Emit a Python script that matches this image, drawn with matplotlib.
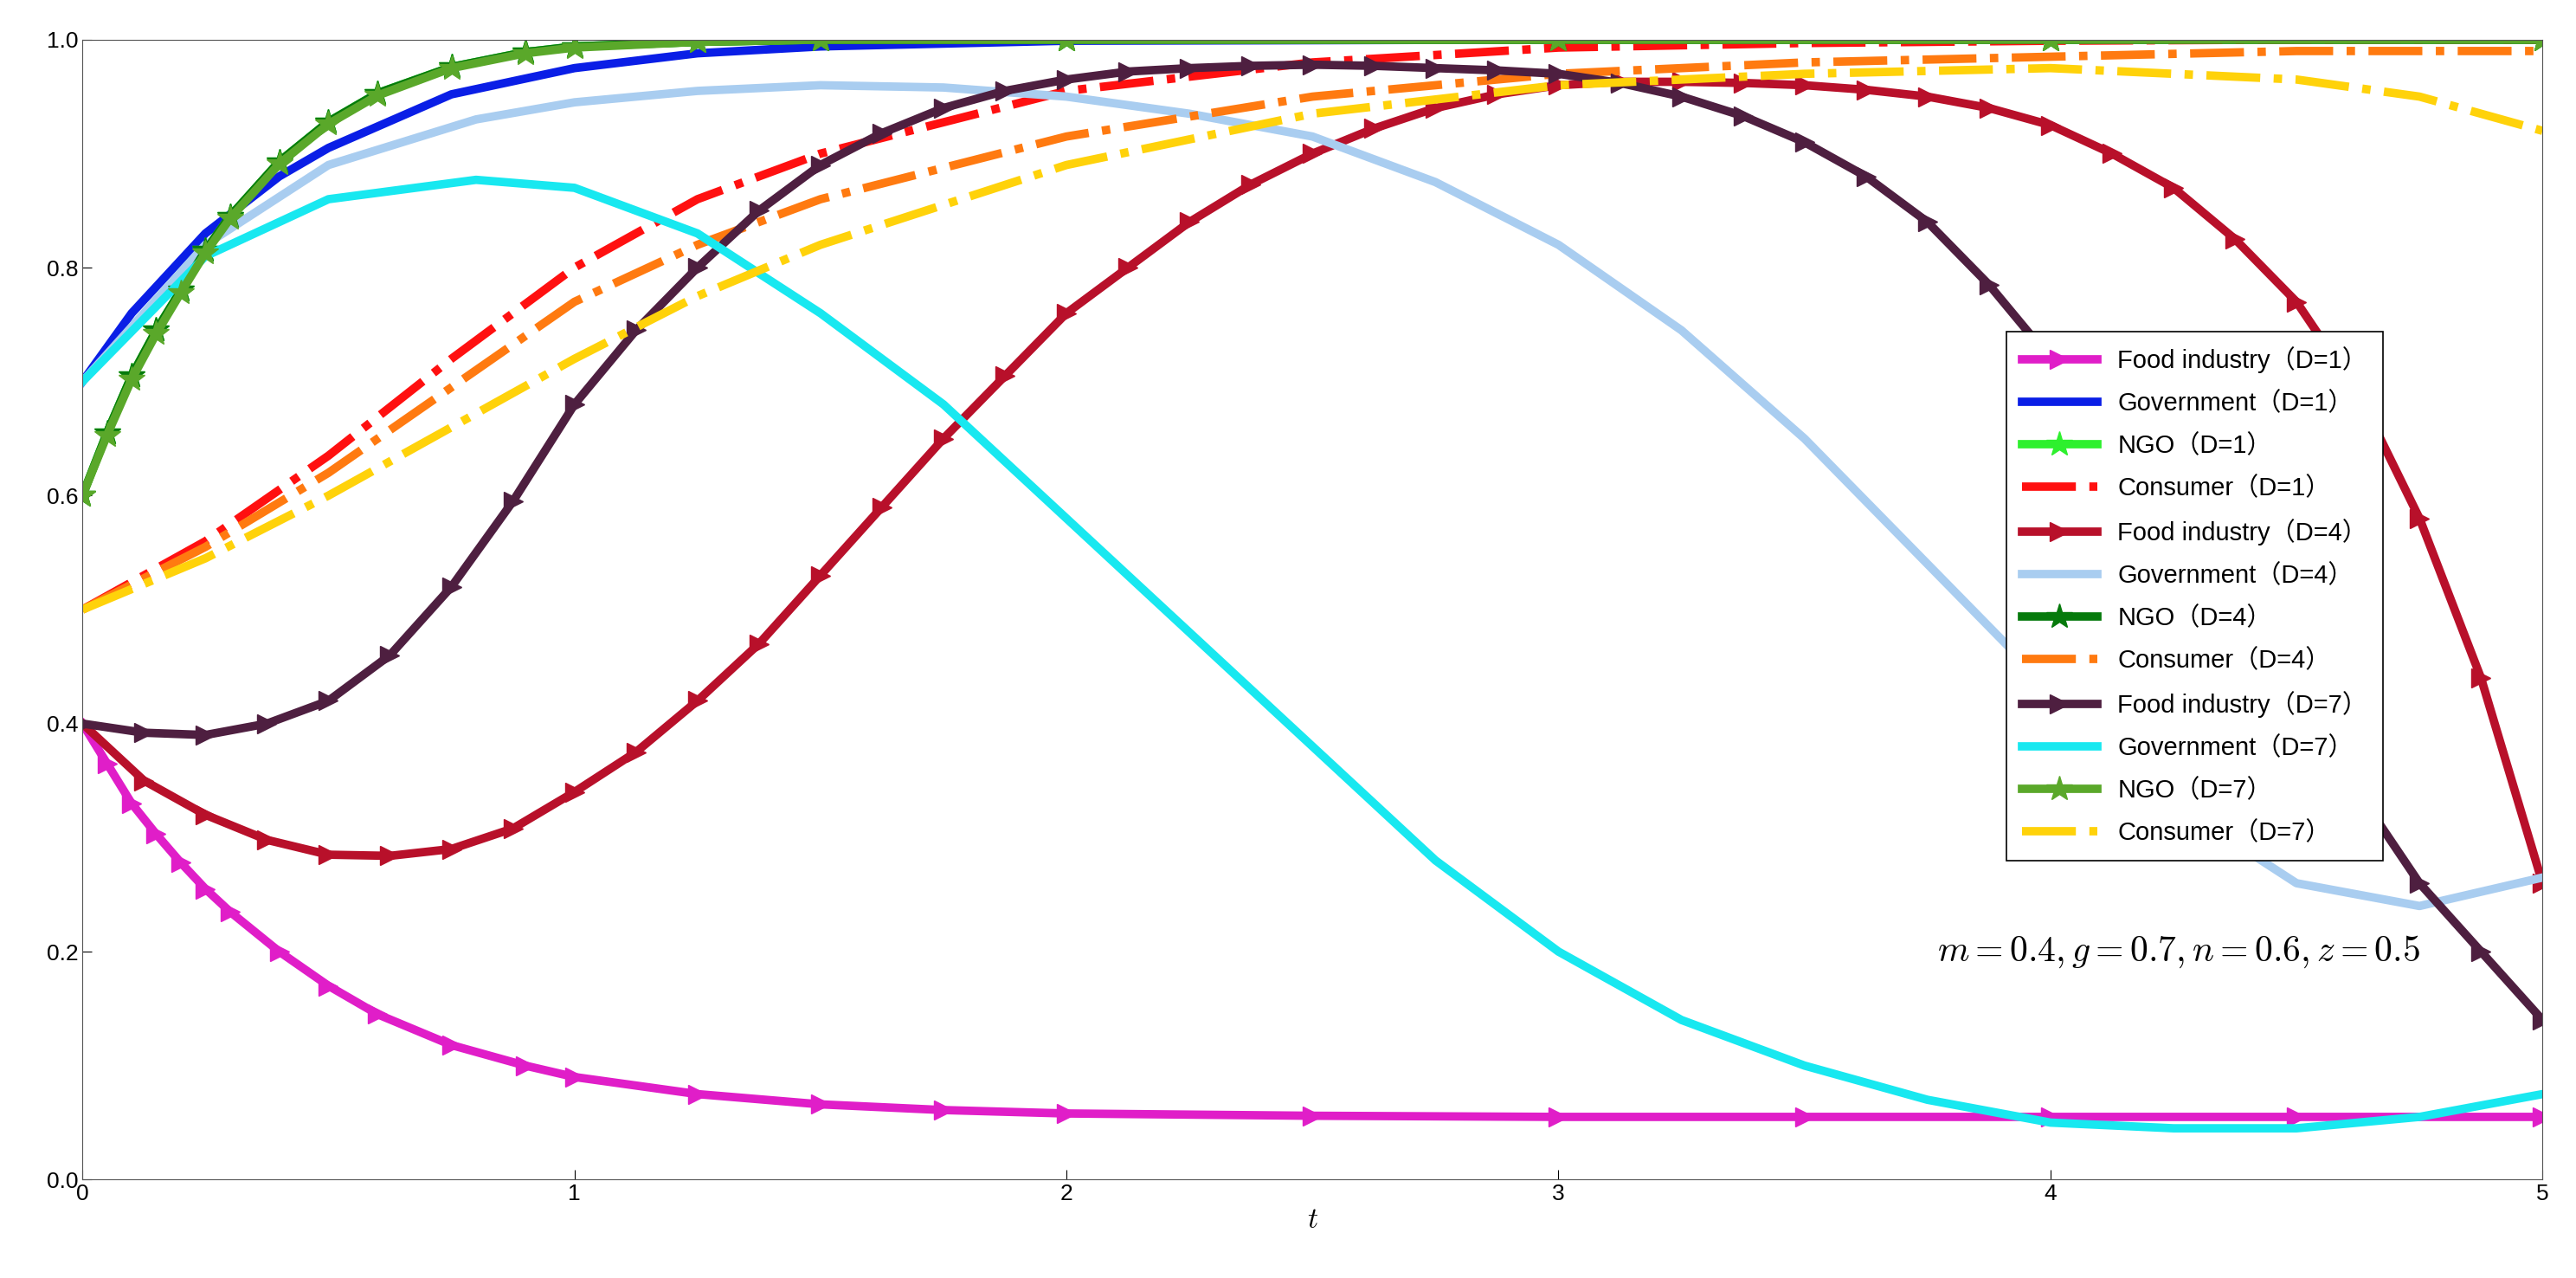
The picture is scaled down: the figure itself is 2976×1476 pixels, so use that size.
import numpy as np
import matplotlib.pyplot as plt

plt.rcParams['font.family'] = ['Liberation Sans', 'Noto Sans CJK SC']
plt.rcParams['mathtext.fontset'] = 'cm'

t_food1 = [0, 0.05, 0.1, 0.15, 0.2, 0.25, 0.3, 0.4, 0.5, 0.6, 0.75, 0.9, 1, 1.25, 1.5, 1.75, 2, 2.5, 3, 3.5, 4, 4.5, 5]
food1 = [0.4, 0.365, 0.33, 0.303, 0.278, 0.255, 0.235, 0.2, 0.17, 0.145, 0.118, 0.1, 0.09, 0.075, 0.066, 0.061, 0.058, 0.056, 0.055, 0.055, 0.055, 0.055, 0.055]

t_gov1 = [0, 0.1, 0.25, 0.4, 0.5, 0.75, 1, 1.25, 1.5, 2, 3, 4, 5]
gov1 = [0.7, 0.76, 0.83, 0.88, 0.905, 0.952, 0.975, 0.988, 0.994, 0.999, 1, 1, 1]

t_ngo = [0, 0.05, 0.1, 0.15, 0.2, 0.25, 0.3, 0.4, 0.5, 0.6, 0.75, 0.9, 1, 1.25, 1.5, 2, 3, 4, 5]
ngo1 = [0.6, 0.655, 0.705, 0.745, 0.78, 0.815, 0.845, 0.893, 0.928, 0.953, 0.976, 0.989, 0.994, 0.998, 1, 1, 1, 1, 1]
ngo4 = [0.6, 0.655, 0.705, 0.745, 0.78, 0.815, 0.845, 0.893, 0.928, 0.953, 0.976, 0.989, 0.994, 0.998, 1, 1, 1, 1, 1]
ngo7 = [0.6, 0.653, 0.702, 0.742, 0.778, 0.813, 0.843, 0.891, 0.926, 0.951, 0.975, 0.988, 0.993, 0.998, 1, 1, 1, 1, 1]

t_cons = [0, 0.25, 0.5, 0.75, 1, 1.25, 1.5, 2, 2.5, 3, 3.5, 4, 4.5, 4.75, 5]
cons1 = [0.5, 0.56, 0.635, 0.72, 0.8, 0.86, 0.9, 0.955, 0.98, 0.993, 0.997, 0.999, 1, 1, 1]
cons4 = [0.5, 0.555, 0.62, 0.695, 0.77, 0.82, 0.86, 0.915, 0.95, 0.97, 0.98, 0.985, 0.99, 0.99, 0.99]
cons7 = [0.5, 0.545, 0.6, 0.66, 0.72, 0.775, 0.82, 0.89, 0.935, 0.96, 0.97, 0.975, 0.965, 0.95, 0.92]

t_food = [0, 0.125, 0.25, 0.375, 0.5, 0.625, 0.75, 0.875, 1, 1.125, 1.25, 1.375, 1.5, 1.625, 1.75, 1.875,
          2, 2.125, 2.25, 2.375, 2.5, 2.625, 2.75, 2.875, 3, 3.125, 3.25, 3.375, 3.5, 3.625, 3.75, 3.875,
          4, 4.125, 4.25, 4.375, 4.5, 4.625, 4.75, 4.875, 5]
food4 = [0.4, 0.35, 0.32, 0.298, 0.285, 0.284, 0.29, 0.308, 0.34, 0.375, 0.42, 0.47, 0.53, 0.59, 0.65, 0.705,
         0.76, 0.8, 0.84, 0.873, 0.9, 0.922, 0.94, 0.952, 0.96, 0.963, 0.963, 0.962, 0.96, 0.956, 0.95, 0.94,
         0.925, 0.9, 0.87, 0.825, 0.77, 0.69, 0.58, 0.44, 0.26]
food7 = [0.4, 0.392, 0.39, 0.4, 0.42, 0.46, 0.52, 0.595, 0.68, 0.745, 0.8, 0.85, 0.89, 0.918, 0.94, 0.955,
         0.965, 0.972, 0.975, 0.977, 0.978, 0.977, 0.975, 0.973, 0.97, 0.962, 0.95, 0.933, 0.91, 0.88, 0.84, 0.785,
         0.72, 0.65, 0.58, 0.5, 0.42, 0.34, 0.26, 0.2, 0.14]

t_gov = [0, 0.25, 0.5, 0.8, 1, 1.25, 1.5, 1.75, 2, 2.25, 2.5, 2.75, 3, 3.25, 3.5, 3.75, 4, 4.25, 4.5, 4.75, 5]
gov4 = [0.7, 0.82, 0.89, 0.93, 0.945, 0.955, 0.96, 0.958, 0.95, 0.935, 0.915, 0.875, 0.82, 0.745, 0.65, 0.54, 0.43, 0.33, 0.26, 0.24, 0.265]
gov7 = [0.7, 0.81, 0.86, 0.877, 0.87, 0.83, 0.76, 0.68, 0.58, 0.48, 0.38, 0.28, 0.2, 0.14, 0.1, 0.07, 0.05, 0.045, 0.045, 0.055, 0.075]

fig = plt.figure(figsize=(29.76, 14.76), dpi=100)
ax = fig.add_axes([0.032, 0.077, 0.955, 0.892])
lw = 7
ms = 16
ax.plot(t_food1, food1, color='#e01ec8', lw=lw, marker='>', ms=ms, label='Food industry（D=1）')
ax.plot(t_gov1, gov1, color='#0a1ee6', lw=lw, label='Government（D=1）')
ax.plot(t_ngo, ngo1, color='#2ef02e', lw=lw, marker='*', ms=22, label='NGO（D=1）')
ax.plot(t_cons, cons1, color='#ff1010', lw=lw, ls='-.', label='Consumer（D=1）')
ax.plot(t_food, food4, color='#b8102a', lw=lw, marker='>', ms=ms, label='Food industry（D=4）')
ax.plot(t_gov, gov4, color='#a9cdf0', lw=lw, label='Government（D=4）')
ax.plot(t_ngo, ngo4, color='#067a0c', lw=lw, marker='*', ms=22, label='NGO（D=4）')
ax.plot(t_cons, cons4, color='#ff7a10', lw=lw, ls='-.', label='Consumer（D=4）')
ax.plot(t_food, food7, color='#4e1f40', lw=lw, marker='>', ms=ms, label='Food industry（D=7）')
ax.plot(t_gov, gov7, color='#18e8f0', lw=lw, label='Government（D=7）')
ax.plot(t_ngo, ngo7, color='#5aa82a', lw=lw, marker='*', ms=22, label='NGO（D=7）')
ax.plot(t_cons, cons7, color='#ffd20a', lw=lw, ls='-.', label='Consumer（D=7）')

ax.set_xlim(0, 5)
ax.set_ylim(0, 1)
ax.set_xticks([0, 1, 2, 3, 4, 5])
ax.set_yticks([0, 0.2, 0.4, 0.6, 0.8, 1.0])
ax.set_yticklabels(['0.0', '0.2', '0.4', '0.6', '0.8', '1.0'])
ax.tick_params(labelsize=19, direction='in', length=8)
for s in ax.spines.values():
    s.set_color('#555555')
ax.set_xlabel('$t$', fontsize=24, labelpad=2)
ax.text(3.77, 0.2, '$m=0.4, g=0.7, n=0.6, z=0.5$', fontsize=30, va='center')
leg = ax.legend(loc='upper left', bbox_to_anchor=(0.777, 0.755), fontsize=21,
                fancybox=False, framealpha=1, edgecolor='black', handlelength=3.0,
                labelspacing=0.72, borderpad=0.6)
leg.get_frame().set_linewidth(1.2)
fig.savefig('out.png', dpi=100)
